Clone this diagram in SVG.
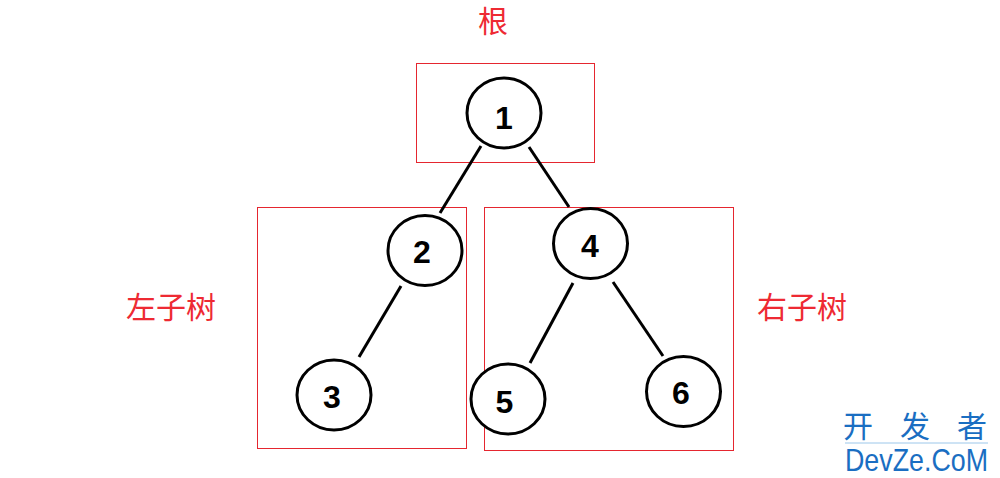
<svg xmlns="http://www.w3.org/2000/svg" width="1000" height="478" viewBox="0 0 1000 478">
<style>
.node ellipse{fill:#fff;stroke:#000;stroke-width:3}
.num{font-family:"Liberation Sans",Arial,sans-serif;font-weight:bold;font-size:32px;fill:#000;text-anchor:middle}
.conn line{stroke:#000;stroke-width:3}
.box{fill:none;stroke:#e5262f;stroke-width:1}
.lbl{font-family:"Noto Sans CJK SC",sans-serif;font-size:30px;fill:#ee2a33;text-anchor:middle}
.wm{font-family:"Noto Sans CJK SC",sans-serif;fill:#1a6ec2}
</style>
<rect width="1000" height="478" fill="#fff"/>
<g id="boxes">
<rect class="box" x="416.5" y="63.5" width="178" height="99"/>
<rect class="box" x="257.5" y="207.5" width="209" height="241"/>
<rect class="box" x="484.5" y="207.5" width="249" height="243"/>
</g>
<g id="labels">
<text class="lbl" x="493" y="32">根</text>
<text class="lbl" x="171" y="318">左子树</text>
<text class="lbl" x="802" y="318">右子树</text>
</g>
<g id="connectors" class="conn">
<line x1="481" y1="146" x2="440" y2="213"/>
<line x1="529" y1="147" x2="569" y2="207"/>
<line x1="401" y1="286" x2="359" y2="357"/>
<line x1="573" y1="283" x2="530" y2="363"/>
<line x1="613" y1="282" x2="663" y2="356"/>
</g>
<g id="node1" class="node"><ellipse cx="504" cy="113" rx="37" ry="35"/><text class="num" x="504" y="129">1</text></g>
<g id="node2" class="node"><ellipse cx="425" cy="250.5" rx="37" ry="35"/><text class="num" x="422" y="263">2</text></g>
<g id="node3" class="node"><ellipse cx="334" cy="395" rx="37" ry="35"/><text class="num" x="332" y="408">3</text></g>
<g id="node4" class="node"><ellipse cx="590.5" cy="243.5" rx="37" ry="35"/><text class="num" x="590" y="257">4</text></g>
<g id="node5" class="node"><ellipse cx="508" cy="399" rx="37" ry="35"/><text class="num" x="504.5" y="412.5">5</text></g>
<g id="node6" class="node"><ellipse cx="683.5" cy="391.5" rx="37" ry="35"/><text class="num" x="681" y="404">6</text></g>
<g id="watermark">
<text class="wm" x="858" y="437" font-size="30" text-anchor="middle">开</text>
<text class="wm" x="915" y="437" font-size="30" text-anchor="middle">发</text>
<text class="wm" x="972" y="437" font-size="30" text-anchor="middle">者</text>
<line x1="845" y1="443" x2="988" y2="443" stroke="#9cc7ea" stroke-width="1"/>
<text x="845" y="471" font-family="'Liberation Sans',Arial,sans-serif" font-size="32" fill="#1a6ec2" textLength="143" lengthAdjust="spacingAndGlyphs">DevZe.CoM</text>
</g>
</svg>
